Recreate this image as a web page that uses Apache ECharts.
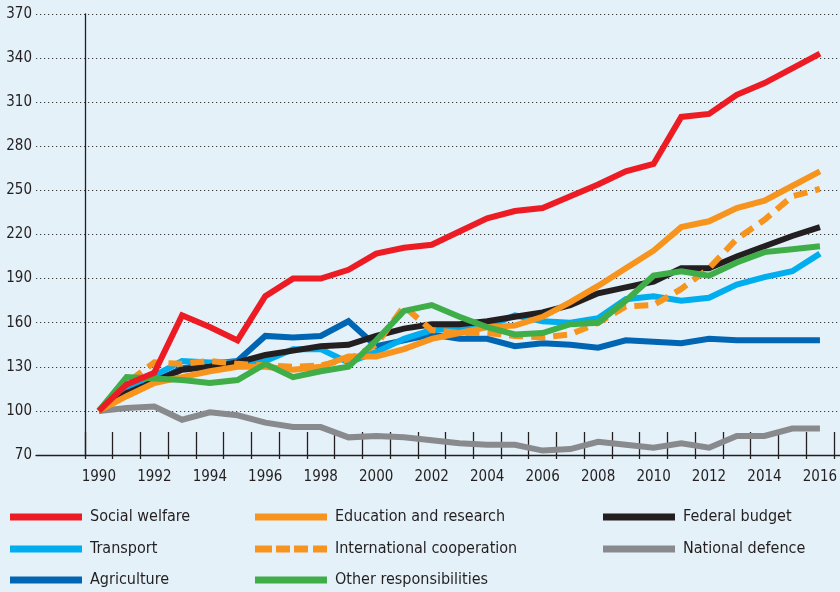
<!DOCTYPE html>
<html>
<head>
<meta charset="utf-8">
<script src="https://cdn.jsdelivr.net/npm/echarts@6/dist/echarts.min.js"></script>
<style>
html,body{margin:0;padding:0;background:#e4f1f8;}
#chart{width:840px;height:592px;}
</style>
</head>
<body>
<div id="chart"></div>
<script>
var years = ['1990','1991','1992','1993','1994','1995','1996','1997','1998','1999','2000','2001','2002','2003','2004','2005','2006','2007','2008','2009','2010','2011','2012','2013','2014','2015','2016'];
var yTicks = [70, 100, 130, 160, 190, 220, 250, 280, 310, 340, 370];

var socialWelfare = [100, 118, 126, 165, 157, 148, 178, 190, 190, 196, 207, 211, 213, 222, 231, 236, 238, 246, 254, 263, 268, 300, 302, 315, 323, 333, 343];
var educationResearch = [100, 110, 119, 123, 127, 130, 130, 128, 130, 137, 137, 142, 149, 153, 157, 158, 164, 174, 185, 197, 209, 225, 229, 238, 243, 253, 263];
var federalBudget = [100, 112, 120, 128, 130, 133, 138, 141, 144, 145, 151, 156, 159, 159, 161, 164, 167, 172, 180, 184, 188, 197, 197, 205, 212, 219, 225];
var transport = [100, 116, 124, 134, 133, 133, 134, 142, 142, 133, 140, 149, 155, 156, 157, 165, 161, 160, 163, 176, 178, 175, 177, 186, 191, 195, 207];
var internationalCooperation = [100, 119, 133, 132, 134, 132, 131, 130, 131, 135, 145, 171, 155, 153, 153, 151, 150, 152, 160, 171, 172, 183, 197, 217, 230, 246, 251];
var nationalDefence = [100, 102, 103, 94, 99, 97, 92, 89, 89, 82, 83, 82, 80, 78, 77, 77, 73, 74, 79, 77, 75, 78, 75, 83, 83, 88, 88];
var agriculture = [100, 118, 120, 129, 132, 134, 151, 150, 151, 161, 144, 148, 152, 149, 149, 144, 146, 145, 143, 148, 147, 146, 149, 148, 148, 148, 148];
var otherResponsibilities = [100, 123, 122, 121, 119, 121, 132, 123, 127, 130, 148, 168, 172, 164, 157, 152, 153, 159, 160, 175, 192, 195, 192, 201, 208, 210, 212];

var FONT = "'Liberation Sans Narrow', 'DejaVu Sans Condensed', 'Noto Sans', sans-serif";
var INK = '#231f20';
var SOLID_ICON = 'path://M0,0L72,0L72,7L0,7Z';
var DASH_ICON = 'path://M0,0L17,0L17,7L0,7ZM21,0L35,0L35,7L21,7ZM39,0L53,0L53,7L39,7ZM58,0L72,0L72,7L58,7Z';

function line(name, data, color, dashed, z) {
  return {
    name: name, type: 'line', data: data, xAxisIndex: 0, yAxisIndex: 0,
    symbol: 'none', z: z,
    lineStyle: { color: color, width: 6, type: dashed ? [14, 8] : 'solid', join: 'miter', cap: 'butt' },
    itemStyle: { color: color }
  };
}

function legendItem(name, left, rowY, dashed) {
  return {
    left: left, top: rowY - 8, padding: 0,
    itemWidth: 72, itemHeight: 7,
    selectedMode: false,
    icon: dashed ? DASH_ICON : SOLID_ICON,
    textStyle: { fontFamily: FONT, fontSize: 16, lineHeight: 16, color: INK, padding: [0, 0, 0, 3] },
    data: [name]
  };
}

var chart = echarts.init(document.getElementById('chart'), null, { renderer: 'canvas' });
chart.setOption({
  backgroundColor: '#e4f1f8',
  animation: false,
  grid: [
    { left: 85, right: 0, top: 14, bottom: 137 },
    { left: 36, right: 0, top: 14, bottom: 137 }
  ],
  xAxis: [
    {
      type: 'category', data: years, gridIndex: 0, boundaryGap: true, offset: 4,
      axisLine: { show: false },
      axisTick: { show: true, inside: true, length: 27, interval: 0, lineStyle: { color: INK, width: 1.3 } },
      axisLabel: { interval: 1, margin: 11, fontFamily: FONT, fontSize: 15, color: INK },
      splitLine: { show: false }
    },
    {
      type: 'value', gridIndex: 1, min: 0, max: 1,
      axisLine: { show: true, lineStyle: { color: INK, width: 1.3 } },
      axisTick: { show: false }, axisLabel: { show: false }, splitLine: { show: false }
    }
  ],
  yAxis: [
    {
      type: 'value', gridIndex: 0, min: yTicks[0], max: yTicks[yTicks.length - 1], interval: 30,
      axisLine: { show: true, lineStyle: { color: INK, width: 1.3 } },
      axisTick: { show: false }, axisLabel: { show: false }, splitLine: { show: false }
    },
    {
      type: 'value', gridIndex: 1, min: yTicks[0], max: yTicks[yTicks.length - 1], interval: 30,
      axisLine: { show: false }, axisTick: { show: false },
      axisLabel: { margin: 4, fontFamily: FONT, fontSize: 15, color: INK },
      splitLine: { show: true, lineStyle: { color: '#3a3a3a', width: 1.2, type: [1.2, 2.8] } }
    }
  ],
  legend: [
    legendItem('Social welfare', 10, 517, false),
    legendItem('Transport', 10, 549, false),
    legendItem('Agriculture', 10, 580, false),
    legendItem('Education and research', 255, 517, false),
    legendItem('International cooperation', 255, 549, true),
    legendItem('Other responsibilities', 255, 580, false),
    legendItem('Federal budget', 603, 517, false),
    legendItem('National defence', 603, 549, false)
  ],
  series: [
    line('National defence', nationalDefence, '#898a8d', false, 2),
    line('Agriculture', agriculture, '#0066b3', false, 3),
    line('Transport', transport, '#00aeef', false, 4),
    line('Federal budget', federalBudget, INK, false, 5),
    line('Education and research', educationResearch, '#f7941d', false, 6),
    line('International cooperation', internationalCooperation, '#f7941d', true, 7),
    line('Other responsibilities', otherResponsibilities, '#3fae49', false, 8),
    line('Social welfare', socialWelfare, '#ed1c24', false, 9)
  ]
});
</script>
</body>
</html>
